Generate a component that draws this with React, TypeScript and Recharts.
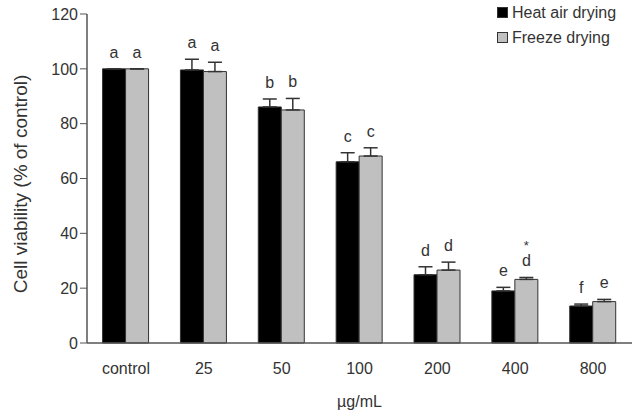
import React from "react";
import { BarChart, Bar, XAxis, YAxis, ErrorBar, LabelList, Legend, Label } from "recharts";

const categories = ["control", "25", "50", "100", "200", "400", "800"];
const heatAir = [100, 99.6, 86.1, 66.1, 24.9, 19.0, 13.5];
const heatAirErr = [0, 3.9, 2.9, 3.3, 2.9, 1.3, 0.7];
const freeze = [100, 99.0, 85.0, 68.2, 26.6, 23.2, 15.1];
const freezeErr = [0, 3.4, 4.2, 3.0, 2.9, 0.7, 0.8];
const heatLetters = ["a", "a", "b", "c", "d", "e", "f"];
const freezeLetters = ["a", "a", "b", "c", "d", "d", "e"];
const freezeMarks = ["", "", "", "", "", "*", ""];
const yTicks = [0, 20, 40, 60, 80, 100, 120];

const data = categories.map((c, i) => ({
  name: c,
  heat: heatAir[i],
  heatErr: [0, heatAirErr[i]],
  freeze: freeze[i],
  freezeErr: [0, freezeErr[i]],
}));

const FONT = "'Liberation Sans', Arial, sans-serif";
const TEXT = "#333";
const AXIS = "#555";

const makeLetterLabel = (letters: string[], errs: number[], marks?: string[]) => (props: any) => {
  const { x, y, width, height, value, index } = props;
  const xv = Number(x), yv = Number(y), w = Number(width), h = Number(height), v = Number(value);
  const errPx = v > 0 ? (errs[index] * h) / v : 0;
  const capY = yv - errPx;
  const cx = xv + w / 2;
  const base = capY - 11;
  const mark = marks ? marks[index] : "";
  return (
    <g>
      <text x={cx} y={base} textAnchor="middle" fontSize={16} fontFamily={FONT} fill={TEXT}>
        {letters[index]}
      </text>
      {mark ? (
        <text x={cx} y={base - 16} textAnchor="middle" fontSize={13} fontFamily={FONT} fill={TEXT}>
          {mark}
        </text>
      ) : null}
    </g>
  );
};

const LegendContent = () => {
  const items = [
    { label: "Heat air drying", color: "#000" },
    { label: "Freeze drying", color: "#c0c0c0" },
  ];
  return (
    <div style={{ fontFamily: FONT, fontSize: 16, color: TEXT }}>
      {items.map((it) => (
        <div key={it.label} style={{ display: "flex", alignItems: "center", height: 25, whiteSpace: "nowrap" }}>
          <span
            style={{
              display: "inline-block",
              width: 9,
              height: 9,
              background: it.color,
              border: "1px solid #333",
              marginRight: 4,
            }}
          />
          <span>{it.label}</span>
        </div>
      ))}
    </div>
  );
};

export default function App() {
  return (
    <div style={{ position: "absolute", left: 0, top: 0, width: 638, height: 411, background: "#fff" }}>
      <BarChart
        width={638}
        height={411}
        data={data}
        margin={{ top: 14, right: 6, bottom: 0, left: 0 }}
        barCategoryGap="20%"
        barGap={0}
      >
        <XAxis
          dataKey="name"
          height={68}
          axisLine={{ stroke: AXIS, strokeWidth: 1.5 }}
          tickLine={false}
          tickMargin={14}
          tick={{ fontSize: 16, fill: TEXT, fontFamily: FONT }}
        >
          <Label value="µg/mL" position="insideBottom" offset={4} fontSize={16} fill={TEXT} fontFamily={FONT} />
        </XAxis>
        <YAxis
          width={87}
          domain={[0, 120]}
          ticks={yTicks}
          axisLine={{ stroke: AXIS, strokeWidth: 1.5 }}
          tickLine={{ stroke: AXIS }}
          tickSize={7}
          tickMargin={2}
          tick={{ fontSize: 16, fill: TEXT, fontFamily: FONT }}
        >
          <Label
            content={() => (
              <text
                transform="translate(27,184) rotate(-90)"
                textAnchor="middle"
                fontSize={19}
                fontFamily={FONT}
                fill={TEXT}
              >
                Cell viability (% of control)
              </text>
            )}
          />
        </YAxis>
        <Legend
          layout="horizontal"
          align="center"
          verticalAlign="middle"
          content={<LegendContent />}
          wrapperStyle={{ position: "absolute", left: 497, top: 0, width: 141, height: 50 }}
        />
        <Bar dataKey="heat" name="Heat air drying" fill="#000" stroke="#333" strokeWidth={1} isAnimationActive={false}>
          <ErrorBar dataKey="heatErr" direction="y" width={7} stroke="#333" strokeWidth={1.5} />
          <LabelList dataKey="heat" content={makeLetterLabel(heatLetters, heatAirErr)} />
        </Bar>
        <Bar dataKey="freeze" name="Freeze drying" fill="#c0c0c0" stroke="#333" strokeWidth={1} isAnimationActive={false}>
          <ErrorBar dataKey="freezeErr" direction="y" width={7} stroke="#333" strokeWidth={1.5} />
          <LabelList dataKey="freeze" content={makeLetterLabel(freezeLetters, freezeErr, freezeMarks)} />
        </Bar>
      </BarChart>
    </div>
  );
}
